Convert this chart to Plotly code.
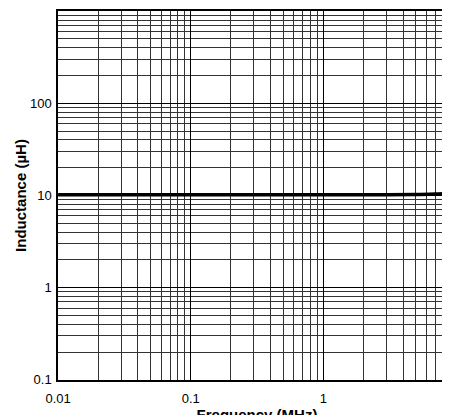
import plotly.graph_objects as go

freq = [0.01, 0.03, 0.1, 0.3, 1, 3, 5, 7, 8, 9, 10]
induct = [10.2, 10.2, 10.2, 10.2, 10.2, 10.2, 10.25, 10.35, 10.5, 10.75, 11.0]
x_ticks = [0.01, 0.1, 1, 10]
x_labels = ["0.01", "0.1", "1", "10"]
y_ticks = [0.1, 1, 10, 100, 1000]
y_labels = ["0.1", "1", "10", "100", "1000"]

font = dict(family="Liberation Sans, Arial", size=13, color="black")
axis_common = dict(type="log", showgrid=True, gridcolor="black", gridwidth=1,
                   minor=dict(showgrid=True, gridcolor="#333", gridwidth=1, dtick="D1"),
                   showline=True, linecolor="black", linewidth=1.5, mirror=True,
                   ticks="", tickfont=font, zeroline=False, automargin=False)

fig = go.Figure(go.Scatter(x=freq, y=induct, mode="lines",
                           line=dict(color="black", width=3.5, shape="spline"),
                           showlegend=False))
fig.update_xaxes(range=[-2.001, 1.001], tickvals=x_ticks, ticktext=x_labels,
                 ticklabelstandoff=6,
                 title=dict(text="<b>Frequency (MHz)</b>", font=dict(family="Liberation Sans, Arial", size=15, color="black"), standoff=0),
                 **axis_common)
fig.update_yaxes(range=[-1.001, 3.001], tickvals=y_ticks, ticktext=y_labels,
                 ticklabelstandoff=2,
                 title=dict(text="<b>Inductance (µH)</b>", font=dict(family="Liberation Sans, Arial", size=15, color="black"), standoff=0),
                 **axis_common)
fig.update_layout(width=450, height=415, margin=dict(l=50, r=2, t=3, b=43),
                  plot_bgcolor="white", paper_bgcolor="white")
fig.write_html("out.html")
